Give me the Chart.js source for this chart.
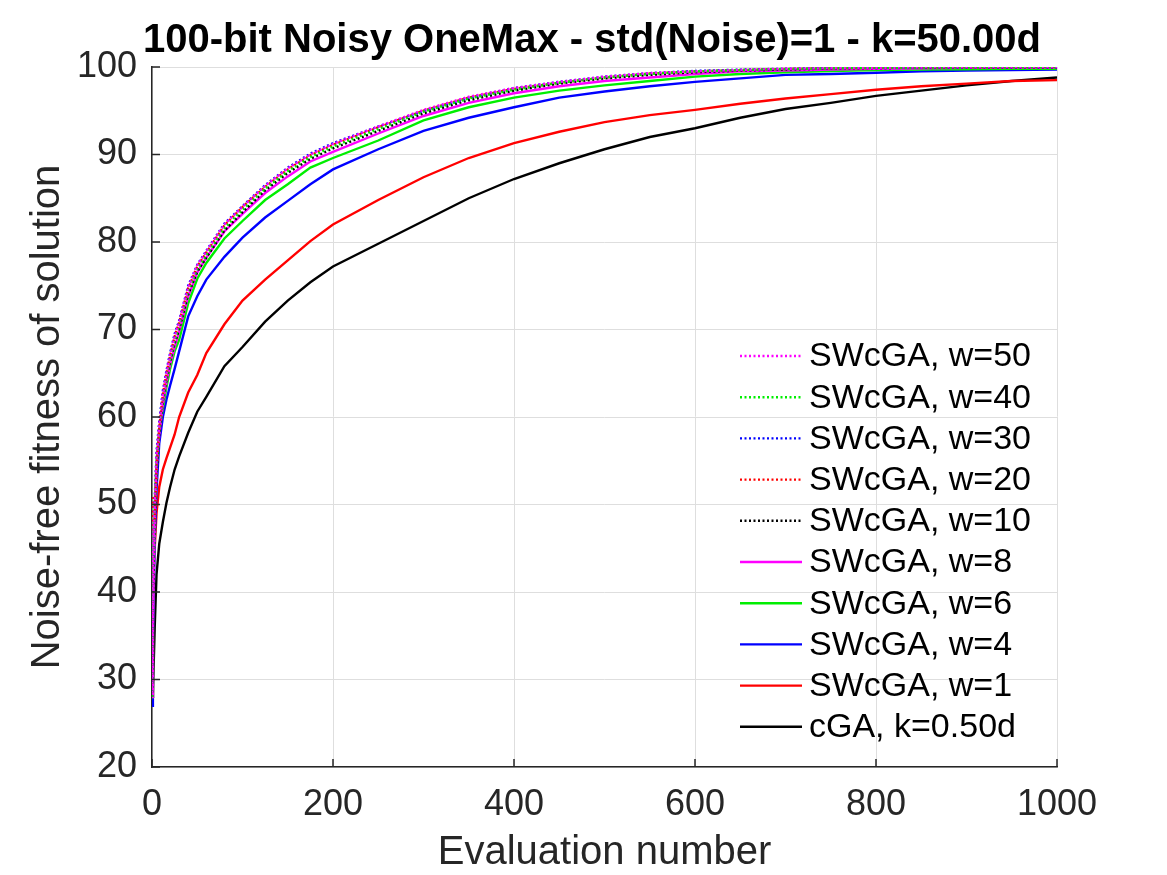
<!DOCTYPE html>
<html>
<head>
<meta charset="utf-8">
<script src="https://cdn.jsdelivr.net/npm/chart.js@4.4.1/dist/chart.umd.min.js"></script>
<style>
  html, body { margin: 0; padding: 0; background: #fff; }
  #wrap { width: 1167px; height: 875px; }
</style>
</head>
<body>
<div id="wrap"><canvas id="chart" width="1167" height="875"></canvas></div>
<script>
/* global Chart */

// ---------- data ----------
const evals = [0, 1, 3, 5, 8, 12, 16, 20, 25, 30, 40, 50, 60, 80, 100, 125, 150, 175, 200,
  250, 300, 350, 400, 450, 500, 550, 600, 650, 700, 750, 800, 850, 900, 950, 1000];

const w50 = [28.5, 44, 50, 55.5, 59, 62.5, 65, 67, 69.2, 70.8, 74.8, 77.3, 78.9, 82.0, 84.0, 86.4, 88.4, 90.0, 91.2,
  93.2, 95.1, 96.6, 97.6, 98.3, 98.9, 99.3, 99.5, 99.65, 99.8, 99.85, 99.9, 99.95, 99.97, 100, 100];
const w40 = [28, 42, 49, 54.5, 58.5, 62, 64.5, 66.5, 68.7, 70.4, 74.4, 76.9, 78.5, 81.6, 83.7, 86.1, 88.1, 89.7, 90.9,
  92.9, 94.9, 96.4, 97.4, 98.2, 98.8, 99.2, 99.5, 99.65, 99.75, 99.85, 99.9, 99.93, 99.95, 99.97, 99.98];
const w30 = [27.5, 43, 50.5, 56, 59.5, 63, 65.3, 67.3, 69.5, 71, 75, 77.4, 79, 82.1, 84.1, 86.5, 88.5, 90.1, 91.3,
  93.2, 95.0, 96.5, 97.6, 98.3, 98.9, 99.3, 99.55, 99.7, 99.8, 99.88, 99.92, 99.95, 99.98, 100, 100];
const w20 = [28, 51, 48, 54, 58.8, 62.6, 65, 67, 69.2, 70.8, 74.7, 77.2, 78.8, 81.9, 84.0, 86.3, 88.3, 89.9, 91.1,
  93.1, 95.0, 96.5, 97.5, 98.2, 98.8, 99.25, 99.5, 99.65, 99.78, 99.86, 99.9, 99.94, 99.96, 99.98, 100];
const w10 = [28, 40, 48, 53.5, 58, 61.8, 64.2, 66.2, 68.4, 70, 74, 76.6, 78.2, 81.3, 83.4, 85.9, 87.9, 89.5, 90.7,
  92.7, 94.7, 96.2, 97.3, 98.1, 98.7, 99.1, 99.4, 99.6, 99.72, 99.82, 99.88, 99.92, 99.95, 99.97, 99.98];
const w8 = [28, 36, 48, 54, 58, 61.5, 64, 66, 68, 69.8, 73.8, 76.5, 78.2, 81.2, 83.2, 85.6, 87.5, 89.2, 90.3,
  92.4, 94.4, 95.9, 97.0, 97.8, 98.4, 98.8, 99.2, 99.5, 99.6, 99.7, 99.8, 99.85, 99.9, 99.9, 99.9];
const w6 = [28, 38, 50, 55, 58.5, 61, 63.4, 65.5, 67.5, 68.8, 73, 75.8, 77.6, 80.4, 82.4, 84.8, 86.6, 88.5, 89.6,
  91.6, 93.9, 95.4, 96.5, 97.3, 97.9, 98.4, 98.9, 99.2, 99.4, 99.55, 99.65, 99.7, 99.75, 99.8, 99.8];
const w4 = [27, 35, 46, 51.7, 57, 60, 62, 63.6, 65.5, 67.5, 71.5, 73.8, 75.7, 78.3, 80.5, 82.8, 84.7, 86.6, 88.3,
  90.6, 92.7, 94.2, 95.4, 96.5, 97.2, 97.8, 98.3, 98.7, 99.1, 99.2, 99.35, 99.5, 99.6, 99.65, 99.7];
const w1 = [28, 40, 45, 49, 52, 54, 55.3, 56.5, 58, 60, 62.8, 64.8, 67.3, 70.6, 73.3, 75.7, 77.9, 80.1, 82,
  84.8, 87.4, 89.6, 91.3, 92.6, 93.7, 94.5, 95.1, 95.8, 96.4, 96.9, 97.4, 97.8, 98.1, 98.4, 98.5];
const cga = [28, 28.5, 36, 42, 45.5, 48, 50.2, 52, 54, 55.5, 58.2, 60.6, 62.3, 65.8, 68, 70.9, 73.3, 75.4, 77.2,
  79.8, 82.4, 85.0, 87.2, 89.0, 90.6, 92.0, 93.0, 94.2, 95.2, 95.9, 96.7, 97.3, 97.9, 98.4, 98.8];

const seriesLabels = ['SWcGA, w=50', 'SWcGA, w=40', 'SWcGA, w=30', 'SWcGA, w=20', 'SWcGA, w=10',
  'SWcGA, w=8', 'SWcGA, w=6', 'SWcGA, w=4', 'SWcGA, w=1', 'cGA, k=0.50d'];
const seriesValues = [w50, w40, w30, w20, w10, w8, w6, w4, w1, cga];
const seriesColors = ['#ff00ff', '#00ee00', '#0000ff', '#ff0000', '#000000',
  '#ff00ff', '#00ee00', '#0000ff', '#ff0000', '#000000'];
const seriesDotted = [true, true, true, true, true, false, false, false, false, false];

const xTicks = [0, 200, 400, 600, 800, 1000];
const yTicks = [20, 30, 40, 50, 60, 70, 80, 90, 100];

const FONT = "'Liberation Sans', Arial, Helvetica, sans-serif";
const AXIS_COLOR = '#262626';

// ---------- helpers ----------
function toPoints(values) {
  return values.map((v, i) => ({ x: evals[i], y: v }));
}

function makeDataset(i) {
  return {
    label: seriesLabels[i],
    data: toPoints(seriesValues[i]),
    borderColor: seriesColors[i],
    backgroundColor: seriesColors[i],
    borderWidth: 2.4,
    borderDash: seriesDotted[i] ? [2, 2.5] : [],
    pointRadius: 0,
    tension: 0,
    fill: false
  };
}

// ---------- plugins ----------
const titlePlugin = {
  id: 'topTitle',
  afterDraw(chart) {
    const { ctx } = chart;
    ctx.save();
    ctx.font = `bold 40px ${FONT}`;
    ctx.fillStyle = '#000';
    ctx.textAlign = 'center';
    ctx.textBaseline = 'alphabetic';
    ctx.fillText('100-bit Noisy OneMax - std(Noise)=1 - k=50.00d', 592, 52);
    ctx.restore();
  }
};

// Matlab style ticks pointing into the axes
const innerTicks = {
  id: 'innerTicks',
  afterDraw(chart) {
    const { ctx, chartArea, scales } = chart;
    ctx.save();
    ctx.strokeStyle = AXIS_COLOR;
    ctx.lineWidth = 1.5;
    ctx.beginPath();
    xTicks.forEach(t => {
      const px = scales.x.getPixelForValue(t);
      ctx.moveTo(px, chartArea.bottom);
      ctx.lineTo(px, chartArea.bottom - 8);
    });
    yTicks.forEach(t => {
      const py = scales.y.getPixelForValue(t);
      ctx.moveTo(chartArea.left, py);
      ctx.lineTo(chartArea.left + 8, py);
    });
    ctx.stroke();
    ctx.restore();
  }
};

// legend drawn inside the plot, no box
const insideLegend = {
  id: 'insideLegend',
  afterDatasetsDraw(chart) {
    const { ctx, chartArea } = chart;
    const x0 = chartArea.left + 588;
    const top = chartArea.top + 289;
    const rowH = 41.2;
    ctx.save();
    ctx.font = `34px ${FONT}`;
    ctx.textBaseline = 'middle';
    ctx.textAlign = 'left';
    chart.data.datasets.forEach((ds, i) => {
      const y = top + i * rowH;
      ctx.strokeStyle = ds.borderColor;
      ctx.lineWidth = 2.4;
      ctx.setLineDash(ds.borderDash);
      ctx.beginPath();
      ctx.moveTo(x0, y);
      ctx.lineTo(x0 + 62, y);
      ctx.stroke();
      ctx.setLineDash([]);
      ctx.fillStyle = '#000';
      ctx.fillText(ds.label, x0 + 69, y + 1);
    });
    ctx.restore();
  }
};

// ---------- chart ----------
new Chart(document.getElementById('chart'), {
  type: 'line',
  data: { datasets: seriesValues.map((_, i) => makeDataset(i)) },
  options: {
    responsive: false,
    animation: false,
    layout: { padding: { top: 67, right: 110, left: 0, bottom: 0 } },
    plugins: {
      legend: { display: false },
      tooltip: { enabled: false },
      title: { display: false }
    },
    scales: {
      x: {
        type: 'linear',
        min: 0,
        max: 1000,
        afterFit(scale) { scale.height = 108; },
        afterBuildTicks(scale) { scale.ticks = xTicks.map(v => ({ value: v })); },
        grid: { color: '#dedede', lineWidth: 1, drawTicks: false },
        border: { color: AXIS_COLOR, width: 1.5 },
        ticks: {
          color: AXIS_COLOR,
          font: { family: FONT, size: 36 },
          padding: 16,
          maxRotation: 0,
          callback: v => String(v)
        },
        title: {
          display: true,
          text: 'Evaluation number',
          color: AXIS_COLOR,
          font: { family: FONT, size: 40, lineHeight: 1 },
          padding: { top: 0, bottom: 2 }
        }
      },
      y: {
        min: 20,
        max: 100,
        afterFit(scale) { scale.width = 152; },
        afterBuildTicks(scale) { scale.ticks = yTicks.map(v => ({ value: v })); },
        grid: { color: '#dedede', lineWidth: 1, drawTicks: false },
        border: { color: AXIS_COLOR, width: 1.5 },
        ticks: {
          color: AXIS_COLOR,
          font: { family: FONT, size: 36 },
          padding: 15,
          callback: v => String(v)
        },
        title: {
          display: true,
          text: 'Noise-free fitness of solution',
          color: AXIS_COLOR,
          font: { family: FONT, size: 40, lineHeight: 1 },
          padding: { top: 28, bottom: 0 }
        }
      }
    }
  },
  plugins: [titlePlugin, innerTicks, insideLegend]
});
</script>
</body>
</html>
